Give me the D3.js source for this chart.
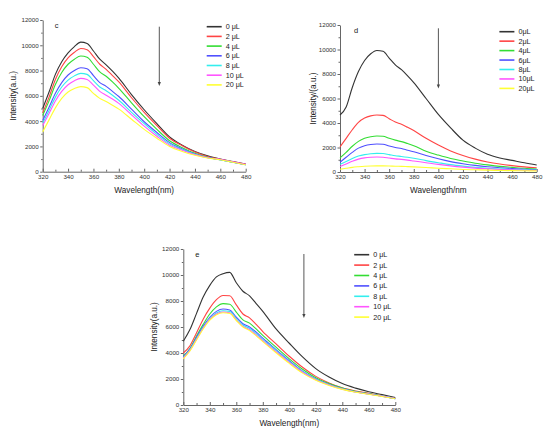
<!DOCTYPE html>
<html>
<head>
<meta charset="utf-8">
<script src="https://cdn.jsdelivr.net/npm/d3@7"></script>
<style>
  body { margin: 0; background: #fff; }
  svg { display: block; font-family: "Liberation Sans", Arial, sans-serif; }
</style>
</head>
<body>
<svg id="chart" width="550" height="433"></svg>
<script>
// wavelengths (nm) shared by every spectrum
var wl = [320,325,330,335,340,345,350,355,360,365,370,375,380,390,400,410,420,430,440,450,460,470,480]
var xTicks = [320,340,360,380,400,420,440,460,480]
var yTicks = [0,2000,4000,6000,8000,10000,12000]
var colors = ["#333333","#ff4444","#33dd33","#5050ff","#33eeee","#ff55ff","#ffff33"]

// panel c  (intensity in thousands)
var cLabels = ["0 μL","2 μL","4 μL","6 μL","8 μL","10 μL","20 μL"]
var c0  = [5.0,6.3,7.7,8.7,9.4,9.9,10.25,10.15,9.55,8.9,8.45,7.95,7.4,6.1,4.9,3.8,2.75,2.1,1.6,1.25,1.0,0.8,0.6]
var c2  = [4.65,5.9,7.3,8.3,9.0,9.45,9.75,9.65,9.1,8.5,8.1,7.6,7.1,5.85,4.7,3.65,2.65,2.05,1.55,1.2,0.98,0.78,0.58]
var c4  = [4.45,5.6,6.9,7.85,8.5,8.9,9.15,9.05,8.5,7.9,7.55,7.1,6.6,5.45,4.35,3.35,2.45,1.9,1.45,1.15,0.95,0.75,0.55]
var c6  = [4.05,5.1,6.2,7.05,7.65,8.0,8.22,8.15,7.6,7.05,6.75,6.35,5.95,4.95,3.95,3.1,2.3,1.8,1.4,1.12,0.95,0.75,0.55]
var c8  = [3.85,4.85,5.9,6.7,7.25,7.58,7.78,7.7,7.2,6.7,6.4,6.05,5.65,4.7,3.8,2.95,2.2,1.75,1.38,1.1,0.95,0.75,0.55]
var c10 = [3.65,4.6,5.6,6.35,6.88,7.2,7.38,7.3,6.85,6.35,6.05,5.75,5.4,4.5,3.6,2.8,2.1,1.7,1.35,1.1,0.98,0.78,0.58]
var c20 = [3.15,4.1,5.05,5.8,6.3,6.58,6.73,6.65,6.2,5.8,5.55,5.25,4.95,4.15,3.35,2.65,2.0,1.6,1.3,1.08,0.95,0.75,0.55]

// panel d
var dLabels = ["0μL","2μL","4μL","6μL","8μL","10μL","20μL"]
var d0  = [4.65,5.3,6.9,8.2,9.1,9.65,9.92,9.85,9.3,8.75,8.35,7.85,7.3,6.0,4.7,3.6,2.6,1.95,1.45,1.15,0.95,0.75,0.57]
var d2  = [2.05,2.75,3.45,4.05,4.4,4.58,4.65,4.62,4.35,4.08,3.9,3.65,3.38,2.75,2.2,1.72,1.35,1.05,0.82,0.65,0.52,0.42,0.35]
var d4  = [1.15,1.6,2.1,2.5,2.75,2.88,2.94,2.92,2.75,2.6,2.48,2.32,2.15,1.7,1.38,1.1,0.9,0.72,0.58,0.46,0.38,0.3,0.25]
var d6  = [0.8,1.2,1.6,1.95,2.15,2.25,2.29,2.27,2.12,2.0,1.92,1.78,1.65,1.35,1.08,0.85,0.68,0.54,0.43,0.35,0.28,0.22,0.18]
var d8  = [0.62,0.85,1.1,1.3,1.42,1.49,1.52,1.51,1.42,1.33,1.27,1.2,1.12,0.93,0.76,0.6,0.48,0.38,0.3,0.25,0.2,0.17,0.14]
var d10 = [0.45,0.65,0.88,1.05,1.15,1.2,1.22,1.21,1.14,1.07,1.03,0.97,0.9,0.76,0.62,0.5,0.4,0.32,0.26,0.21,0.17,0.14,0.12]
var d20 = [0.22,0.3,0.38,0.43,0.47,0.49,0.5,0.5,0.49,0.47,0.46,0.44,0.42,0.37,0.31,0.26,0.21,0.18,0.15,0.13,0.11,0.1,0.09]

// panel e
var eLabels = ["0 μL","2 μL","4 μL","6 μL","8 μL","10 μL","20 μL"]
var e0  = [4.9,5.8,7.05,8.3,9.2,9.85,10.1,10.2,9.4,8.75,8.4,7.8,7.2,5.85,4.75,3.7,2.8,2.15,1.65,1.3,1.02,0.8,0.58]
var e2  = [4.0,4.55,5.55,6.6,7.45,8.1,8.42,8.4,7.7,7.0,6.7,6.2,5.65,4.7,3.75,2.9,2.2,1.7,1.32,1.08,0.9,0.7,0.5]
var e4  = [3.75,4.35,5.3,6.2,7.0,7.55,7.8,7.75,7.15,6.55,6.3,5.85,5.35,4.45,3.55,2.75,2.1,1.65,1.3,1.05,0.88,0.7,0.5]
var e6  = [3.7,4.3,5.2,6.05,6.75,7.2,7.38,7.3,6.75,6.25,6.0,5.6,5.15,4.25,3.4,2.6,2.0,1.58,1.25,1.0,0.85,0.68,0.48]
var e8  = [3.65,4.25,5.1,5.95,6.65,7.08,7.25,7.2,6.65,6.15,5.9,5.5,5.05,4.2,3.35,2.58,1.98,1.56,1.24,1.0,0.85,0.68,0.48]
var e10 = [3.6,4.2,5.05,5.9,6.58,7.0,7.15,7.1,6.55,6.05,5.8,5.4,4.95,4.1,3.28,2.52,1.95,1.54,1.22,1.0,0.85,0.68,0.5]
var e20 = [3.55,4.15,5.0,5.85,6.52,6.95,7.1,7.05,6.5,6.0,5.72,5.32,4.88,4.02,3.2,2.45,1.9,1.5,1.2,0.98,0.83,0.66,0.48]

var svg = d3.select("#chart")
svg.append("rect").attr("width", 550).attr("height", 433).attr("fill", "#fff")

drawPanel({
    left: 42.7, top: 20, w: 203, h: 151.7,
    series: [c0,c2,c4,c6,c8,c10,c20], labels: cLabels,
    letter: "c", xTitle: "Wavelength(nm)", yTitle: "Intensity(a.u.)",
    legX: 164, legY: 6.7, legStep: 9.7, arrowX: 116.6, arrowY: [6.7, 66],
    yTitleX: -30
})
drawPanel({
    left: 340, top: 25, w: 196.7, h: 147,
    series: [d0,d2,d4,d6,d8,d10,d20], labels: dLabels,
    letter: "d", xTitle: "Wavelength/nm", yTitle: "Intensity/(a.u.)",
    legX: 159.4, legY: 6.7, legStep: 9.45, arrowX: 98.4, arrowY: [3.3, 63.5],
    yTitleX: -27
})
drawPanel({
    left: 183.3, top: 249, w: 212, h: 156,
    series: [e0,e2,e4,e6,e8,e10,e20], labels: eLabels,
    letter: "e", xTitle: "Wavelength(nm)", yTitle: "Intensity(a.u.)",
    legX: 170.9, legY: 5.7, legStep: 10.4, arrowX: 120.6, arrowY: [5, 69],
    yTitleX: -29.4
})

function drawPanel(p) {
    var g = svg.append("g").attr("transform", "translate(" + p.left + "," + p.top + ")")

    var x = d3.scaleLinear().domain([320, 480]).range([0, p.w])
    var y = d3.scaleLinear().domain([0, 12000]).range([p.h, 0])

    // minor ticks first
    g.append("g")
        .attr("transform", "translate(0," + p.h + ")")
        .call(d3.axisBottom(x).tickValues(d3.range(330, 480, 20)).tickSizeInner(-2).tickSizeOuter(0).tickFormat(""))
        .call(s => s.select(".domain").remove())
    g.append("g")
        .call(d3.axisLeft(y).tickValues(d3.range(1000, 12000, 2000)).tickSizeInner(1.5).tickSizeOuter(0).tickFormat(""))
        .call(s => s.select(".domain").remove())

    g.append("g")
        .attr("transform", "translate(0," + p.h + ")")
        .call(d3.axisBottom(x).tickValues(xTicks).tickSizeInner(-3).tickSizeOuter(0).tickPadding(3).tickFormat(d3.format("d")))
    g.append("g")
        .call(d3.axisLeft(y).tickValues(yTicks).tickSizeInner(2.5).tickSizeOuter(0).tickPadding(1.5).tickFormat(d3.format("d")))

    g.selectAll(".tick line").attr("stroke", "#666")
    g.selectAll(".domain").attr("stroke", "#666")
    g.selectAll(".tick text").attr("font-size", 6.2).attr("fill", "#333").attr("font-family", "Liberation Sans, Arial, sans-serif")

    var line = d3.line()
        .x((d, i) => x(wl[i]))
        .y(d => y(d * 1000))
        .curve(d3.curveMonotoneX)

    g.selectAll(".spec")
        .data(p.series)
        .enter()
        .append("path")
        .attr("class", "spec")
        .attr("d", d => line(d))
        .attr("fill", "none")
        .attr("stroke", (d, i) => colors[i])
        .attr("stroke-width", 1.1)

    g.append("text")
        .attr("x", p.w / 2)
        .attr("y", p.h + 21)
        .attr("text-anchor", "middle")
        .attr("font-size", 8.2)
        .attr("fill", "#222")
        .text(p.xTitle)

    g.append("text")
        .attr("transform", "translate(" + p.yTitleX + "," + (p.h / 2) + ") rotate(-90)")
        .attr("text-anchor", "middle")
        .attr("dy", "0.35em")
        .attr("font-size", 8.2)
        .attr("fill", "#222")
        .text(p.yTitle)

    g.append("text")
        .attr("x", p.letter == "d" ? 14 : 12)
        .attr("y", 8)
        .attr("font-size", 7.5)
        .attr("fill", "#222")
        .text(p.letter)

    // legend
    var leg = g.append("g").attr("transform", "translate(" + p.legX + "," + p.legY + ")")
    p.labels.forEach(function(lab, i) {
        leg.append("line")
            .attr("x1", 0).attr("x2", 15)
            .attr("y1", i * p.legStep).attr("y2", i * p.legStep)
            .attr("stroke", colors[i])
            .attr("stroke-width", 1.6)
        leg.append("text")
            .attr("x", 19)
            .attr("y", i * p.legStep)
            .attr("dy", "0.35em")
            .attr("font-size", 7.2)
            .attr("fill", "#222")
            .text(lab)
    })

    // arrow
    g.append("line")
        .attr("x1", p.arrowX).attr("x2", p.arrowX)
        .attr("y1", p.arrowY[0]).attr("y2", p.arrowY[1] - 3)
        .attr("stroke", "#444")
        .attr("stroke-width", 0.9)
    g.append("path")
        .attr("d", "M" + (p.arrowX - 1.6) + "," + (p.arrowY[1] - 4) + "L" + (p.arrowX + 1.6) + "," + (p.arrowY[1] - 4) + "L" + p.arrowX + "," + p.arrowY[1] + "Z")
        .attr("fill", "#444")
}
</script>
</body>
</html>
